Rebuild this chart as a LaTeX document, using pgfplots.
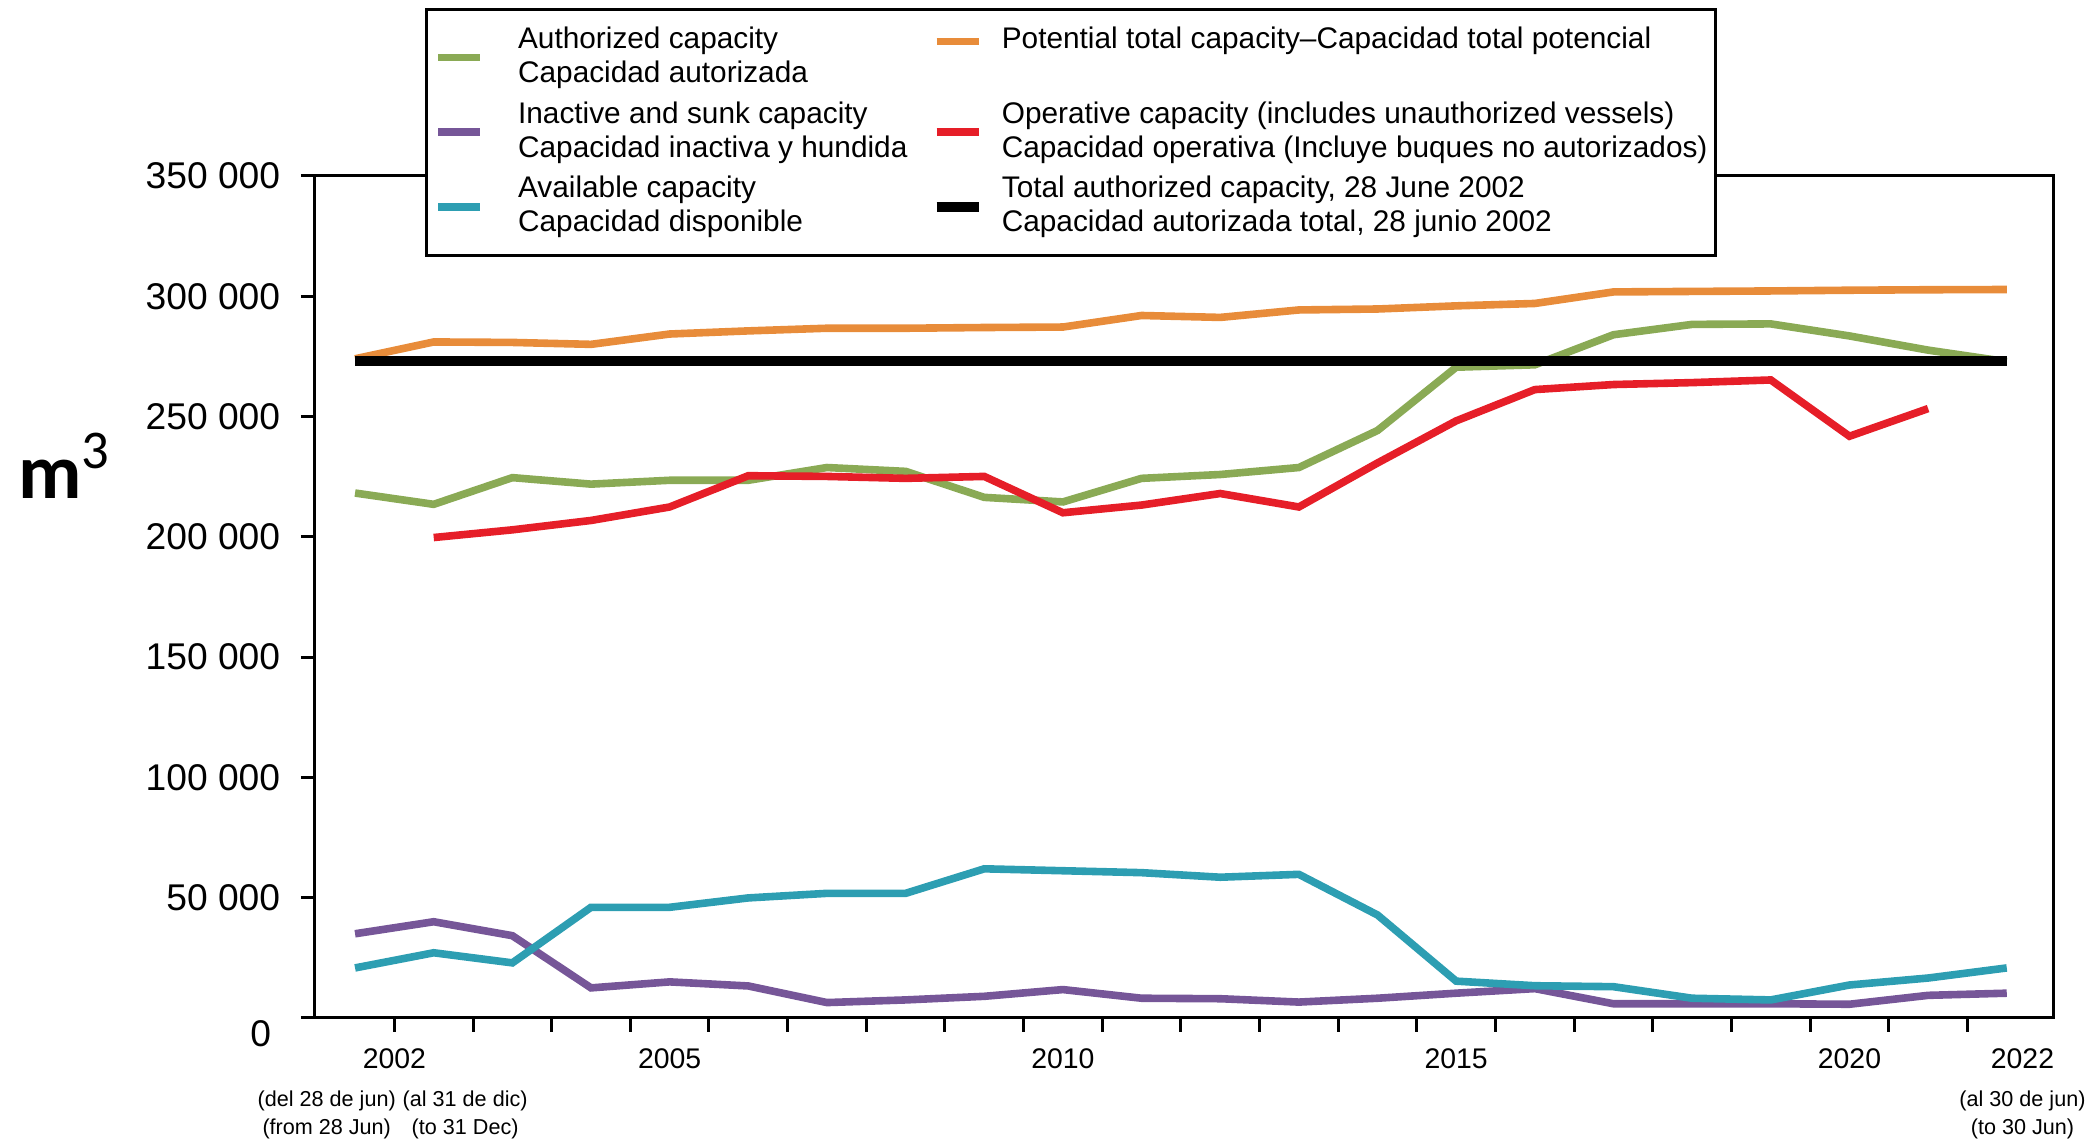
\documentclass[border=0pt]{standalone}
\usepackage{pgfplots}
\pgfplotsset{compat=1.18}
\usepackage{fontspec}
\setmainfont{Liberation Sans}
\newfontfamily\mfont{Carlito}

\definecolor{cgreen}{RGB}{138,170,85}
\definecolor{corange}{RGB}{232,140,58}
\definecolor{cpurple}{RGB}{118,86,152}
\definecolor{cred}{RGB}{230,30,40}
\definecolor{cteal}{RGB}{45,158,178}

\pgfplotsset{
  flatlegend/.style={legend image code/.code={\draw[##1] (0pt,0pt) -- (10.5pt,0pt);}},
  toplegend/.style={legend image code/.code={\draw[##1] (0pt,4pt) -- (10.5pt,4pt); \path (0pt,-4pt);}},
}

% x = 0: 2002 (from 28 Jun), 1: 2002 (to 31 Dec), 2: 2003, ..., 21: 2022 (to 30 Jun)
\pgfplotstableread{
k  pot    auth   inact  avail
0  274000 218200 35000  20800
1  281000 213500 40000  27100
2  280800 224600 34200  22900
3  280000 221900 12500  46000
4  284300 223500 15000  46000
5  285600 223500 13300  49900
6  286700 228800 6400   51800
7  286700 227200 7500   51800
8  287000 216400 9000   62000
9  287200 214500 11800  61200
10 292000 224300 8200   60400
11 291200 225900 8000   58500
12 294300 228800 6600   59700
13 294700 244200 8200   42800
14 296000 270500 10300  15300
15 297000 271500 12200  13400
16 301800 284000 5900   13000
17 302000 288300 5900   8200
18 302200 288500 5900   7500
19 302500 283500 5700   13700
20 302700 277600 9400   16600
21 302800 272800 10300  20800
}\capdata

\pgfplotstableread{
k  oper
1  199700
2  202900
3  206800
4  212400
5  225400
6  225100
7  224300
8  225100
9  210000
10 213200
11 218000
12 212400
13 230700
14 248200
15 261200
16 263300
17 264100
18 265200
19 241800
20 253300
}\operdata

\begin{document}
\begin{tikzpicture}
\begin{axis}[
  name=ax,
  width=434.75pt, height=210.5pt, scale only axis,
  xmin=-0.51, xmax=21.6, ymin=0, ymax=350000,
  clip=false,
  axis line style={line width=0.75pt},
  tick style={line width=0.75pt, black},
  tick align=outside, major tick length=3.5pt,
  xtick pos=bottom, ytick pos=left,
  xtick={0.5,1.5,...,20.5}, xticklabels={},
  extra x ticks={0.5,4,9,14,19,21.2},
  extra x tick labels={2002,2005,2010,2015,2020,2022},
  extra x tick style={major tick length=0pt},
  xticklabel style={font=\fontsize{7.1}{8}\selectfont, inner sep=0pt, anchor=north, yshift=-7.5pt},
  ytick={50000,100000,...,350000},
  extra y ticks={0},
  extra y tick style={yticklabel style={yshift=-4pt, xshift=-2.3pt}},
  scaled y ticks=false,
  yticklabel style={font=\fontsize{9.3}{11}\selectfont, inner sep=0pt, anchor=east, xshift=-5pt},
  /pgf/number format/fixed,
  /pgf/number format/1000 sep={\ },
  /pgf/number format/assume math mode=true,
  flatlegend,
  legend columns=2,
  legend cell align=left,
  legend style={at={(rel axis cs:0.0633,1.1995)}, anchor=north west,
    draw=black, line width=0.75pt, fill=white,
    font=\fontsize{7.45}{8.5}\selectfont,
    inner xsep=2pt, inner ysep=4.3pt, row sep=3.3pt,
    cells={align=left},
    nodes={inner sep=0pt},
    /tikz/column 1/.append style={column sep=8.5pt},
    /tikz/column 2/.append style={column sep=6pt},
    /tikz/column 3/.append style={column sep=4.5pt}},
]
\addplot[cgreen, line width=1.9pt] table[x=k, y=auth] {\capdata};
\addlegendentry{Authorized capacity\\Capacidad autorizada}
\addplot[corange, line width=1.9pt, toplegend] table[x=k, y=pot] {\capdata};
\addlegendentry{Potential total capacity–Capacidad total potencial\\\mbox{}}
\addplot[cpurple, line width=1.9pt] table[x=k, y=inact] {\capdata};
\addlegendentry{Inactive and sunk capacity\\Capacidad inactiva y hundida}
\addplot[cred, line width=1.9pt] table[x=k, y=oper] {\operdata};
\addlegendentry{Operative capacity (includes unauthorized vessels)\\Capacidad operativa (Incluye buques no autorizados)}
\addplot[cteal, line width=1.9pt] table[x=k, y=avail] {\capdata};
\addlegendentry{Available capacity\\Capacidad disponible}
\addplot[black, line width=2.6pt] coordinates {(0,273000) (21,273000)};
\addlegendentry{Total authorized capacity, 28 June 2002\\Capacidad autorizada total, 28 junio 2002}

\node[font=\mfont\fontsize{19.5}{20}\selectfont\bfseries] at (rel axis cs:0,0.656) [xshift=-62.5pt] {m\textsuperscript{\mdseries 3}};
\node[font=\fontsize{5.4}{7.1}\selectfont, align=center, anchor=north, inner sep=0pt]
  at (axis cs:-0.36,0) [yshift=-18pt] {(del 28 de jun)\\(from 28 Jun)};
\node[font=\fontsize{5.4}{7.1}\selectfont, align=center, anchor=north, inner sep=0pt]
  at (axis cs:1.4,0) [yshift=-18pt] {(al 31 de dic)\\(to 31 Dec)};
\node[font=\fontsize{5.4}{7.1}\selectfont, align=center, anchor=north, inner sep=0pt]
  at (axis cs:21.2,0) [yshift=-18pt] {(al 30 de jun)\\(to 30 Jun)};

\coordinate (bbl) at (rel axis cs:-0.1811,-0.1485);
\coordinate (btr) at (rel axis cs:1.0236,1.2090);
\end{axis}
\pgfresetboundingbox
\path[use as bounding box] (bbl) rectangle (btr);
\end{tikzpicture}
\end{document}
